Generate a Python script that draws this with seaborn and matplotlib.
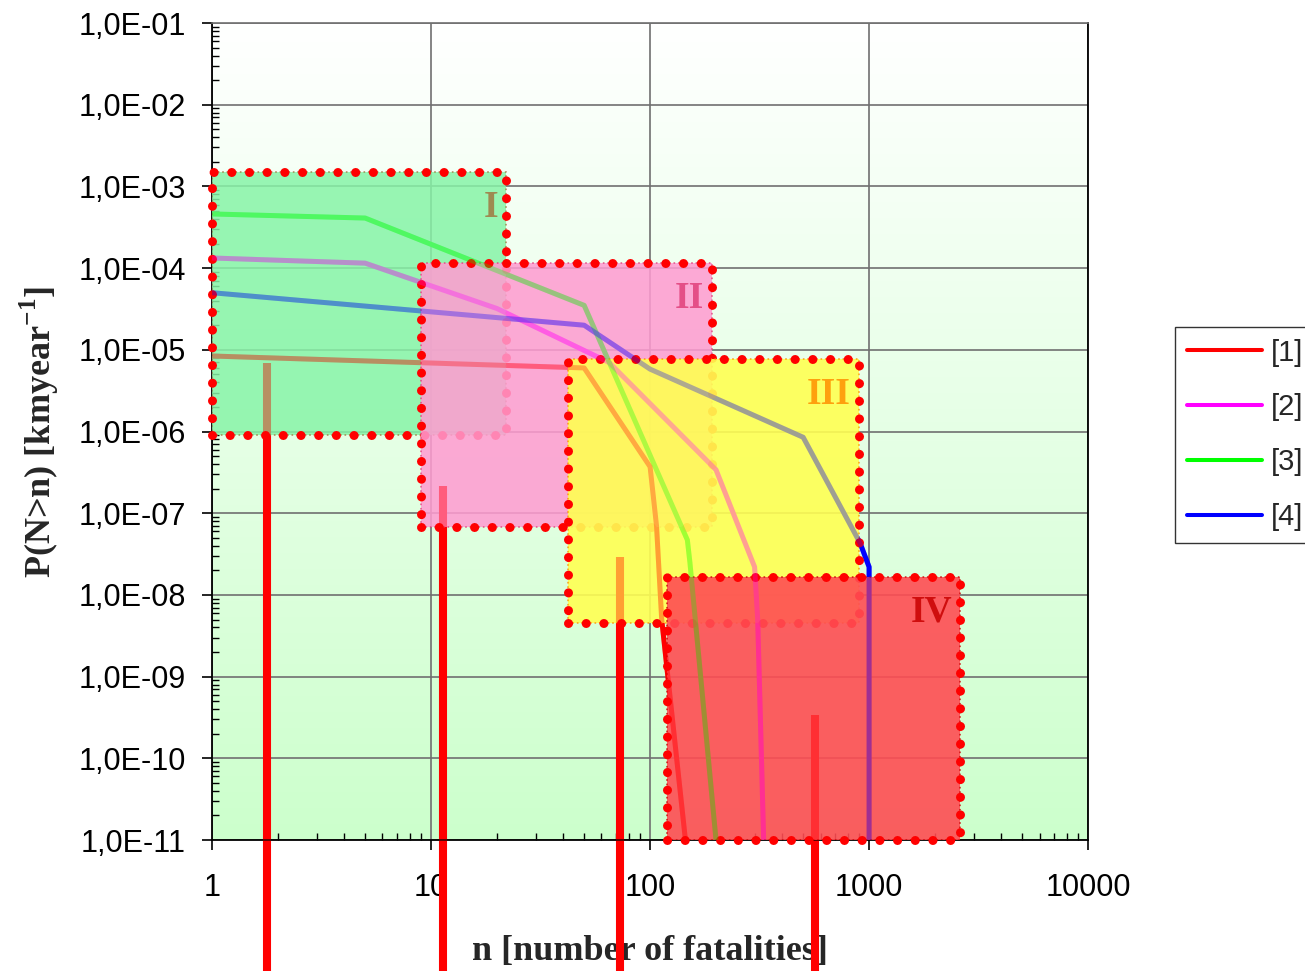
import numpy as np
import pandas as pd
import matplotlib
matplotlib.use("Agg")
import matplotlib.pyplot as plt
from matplotlib.patches import Rectangle
from matplotlib.ticker import FixedLocator, FixedFormatter, LogLocator, NullFormatter
import seaborn as sns

# ---------------- data ----------------
series_names = ['[1]', '[2]', '[3]', '[4]']
n1 = [1, 50, 100, 107, 113, 145]
p1 = [8.4e-6, 6.0e-6, 3.7e-7, 7e-8, 5e-9, 1e-11]
n2 = [1, 5, 20, 65, 200, 300, 310, 330]
p2 = [1.33e-4, 1.15e-4, 3.2e-5, 7e-6, 3.4e-7, 2.2e-8, 5e-9, 1e-11]
n3 = [1, 5, 50, 148, 152, 200]
p3 = [4.6e-4, 4.1e-4, 3.5e-5, 4.7e-8, 2.5e-8, 1e-11]
n4 = [1, 50, 100, 500, 910, 1000, 1000]
p4 = [5e-5, 2e-5, 5.8e-6, 8.5e-7, 4.3e-8, 2.2e-8, 1e-12]

region_labels = ['I', 'II', 'III', 'IV']
region_n_min = [1, 9, 42, 120]
region_n_max = [22, 192, 900, 2600]
region_p_min = [9e-7, 6.8e-8, 4.5e-9, 1e-11]
region_p_max = [1.5e-3, 1.15e-4, 7.7e-6, 1.66e-8]

marker_n = [1.78, 11.35, 73, 565]
marker_p = [6.9e-6, 2.15e-7, 2.9e-8, 3.4e-10]
marker_base = 1e-14

x_ticks = [1, 10, 100, 1000, 10000]
x_tick_labels = ['1', '10', '100', '1000', '10000']
y_ticks = [1e-11, 1e-10, 1e-9, 1e-8, 1e-7, 1e-6, 1e-5, 1e-4, 1e-3, 1e-2, 1e-1]
y_tick_labels = ['1,0E-11', '1,0E-10', '1,0E-09', '1,0E-08', '1,0E-07', '1,0E-06',
                 '1,0E-05', '1,0E-04', '1,0E-03', '1,0E-02', '1,0E-01']

# ---------------- style ----------------
sns.set_style("white")
plt.rcParams['font.family'] = ['Liberation Sans', 'DejaVu Sans']
plt.rcParams['mathtext.fontset'] = 'custom'
plt.rcParams['mathtext.rm'] = 'Liberation Serif'
plt.rcParams['mathtext.bf'] = 'Liberation Serif:bold'
plt.rcParams['hatch.linewidth'] = 0.5

palette = {'[1]': '#ff0000', '[2]': '#ff00ff', '[3]': '#00ff00', '[4]': '#0000ff'}
region_face = [(0.28, 0.91, 0.47, 0.72), (1.0, 0.35, 0.70, 0.75),
               (1.0, 1.0, 0.0, 0.82), (1.0, 0.0, 0.05, 0.82)]
region_hatch = [(0.75, 1.0, 0.82, 0.45), (1.0, 0.85, 0.93, 0.45),
                (1.0, 1.0, 0.65, 0.45), (1.0, 0.6, 0.6, 0.45)]
label_colors = ['#a07840', '#e0407a', '#ff9000', '#c80000']

rows = []
for name, ns, ps in zip(series_names, [n1, n2, n3, n4], [p1, p2, p3, p4]):
    for n, p in zip(ns, ps):
        rows.append({'n': n, 'P': p, 'series': name})
df = pd.DataFrame(rows)

fig = plt.figure(figsize=(13.05, 9.71), dpi=100)
pos = [0.1625, 0.1349, 0.6713, 0.8414]

# background gradient
bg = fig.add_axes(pos, zorder=0)
grad = np.linspace(0, 1, 256)[:, None, None]
top_c = np.array([1.0, 1.0, 1.0])
bot_c = np.array([0.80, 1.0, 0.80])
img = top_c * (1 - grad) + bot_c * grad
bg.imshow(img, aspect='auto', extent=[0, 1, 0, 1])
bg.axis('off')

ax = fig.add_axes(pos, zorder=1)
ax.set_facecolor('none')
ax.set_xscale('log')
ax.set_yscale('log')

# curves underneath the regions
sns.lineplot(data=df, x='n', y='P', hue='series', palette=palette,
             estimator=None, sort=False, linewidth=3.6, ax=ax, zorder=2)
ax.vlines(marker_n, marker_base, marker_p, colors='#ff0000', linewidth=5.8,
          clip_on=False, zorder=2.5)

for i, lab in enumerate(region_labels):
    x0, x1 = region_n_min[i], region_n_max[i]
    y0, y1 = region_p_min[i], region_p_max[i]
    z = 3 + i * 0.1
    ax.add_patch(Rectangle((x0, y0), x1 - x0, y1 - y0, facecolor=region_face[i],
                           edgecolor=region_hatch[i], hatch='+' * 18, linewidth=0,
                           zorder=z))
    ax.add_patch(Rectangle((x0, y0), x1 - x0, y1 - y0, fill=False,
                           edgecolor=label_colors[i], linewidth=1.2, linestyle=':',
                           zorder=z + 0.01, alpha=0.8))
    ax.add_patch(Rectangle((x0, y0), x1 - x0, y1 - y0, fill=False,
                           edgecolor='#ff0000', linewidth=6.5,
                           linestyle=(0, (0.01, 1.95)), capstyle='round',
                           joinstyle='round', clip_on=False, zorder=z + 0.02))
    ax.annotate(lab, xy=(x1, y1), xytext=(-8, -18), textcoords='offset pixels',
                ha='right', va='top', fontsize=27, fontweight='bold',
                family='Liberation Serif', color=label_colors[i], alpha=0.85,
                zorder=z + 0.03)

# see-through effect of the patterned region fills: faint copy of curves on top
sns.lineplot(data=df, x='n', y='P', hue='series', palette=palette,
             estimator=None, sort=False, linewidth=3.6, ax=ax, zorder=3.5,
             alpha=0.3, legend=False)
ax.vlines(marker_n, marker_base, marker_p, colors='#ff0000', linewidth=5.8,
          clip_on=False, zorder=3.5, alpha=0.3)

ax.set_xlim(1, 10000)
ax.set_ylim(1e-11, 1e-1)
ax.xaxis.set_major_locator(FixedLocator(x_ticks))
ax.xaxis.set_major_formatter(FixedFormatter(x_tick_labels))
ax.yaxis.set_major_locator(FixedLocator(y_ticks))
ax.yaxis.set_major_formatter(FixedFormatter(y_tick_labels))
ax.xaxis.set_minor_locator(LogLocator(base=10, subs=np.arange(2, 10), numticks=20))
ax.yaxis.set_minor_locator(LogLocator(base=10, subs=np.arange(2, 10), numticks=20))
ax.xaxis.set_minor_formatter(NullFormatter())
ax.yaxis.set_minor_formatter(NullFormatter())
ax.tick_params(which='major', direction='out', length=7, width=1.2, colors='black',
               labelsize=22)
ax.tick_params(axis='y', which='major', pad=12)
ax.tick_params(axis='x', which='major', pad=17)
ax.tick_params(which='minor', direction='in', length=5, width=1, colors='black')
ax.tick_params(left=True, bottom=True, which='both')

ax.set_axisbelow(True)
ax.grid(True, which='major', color='#707070', linewidth=1.2)
for s in ['left', 'bottom', 'right']:
    ax.spines[s].set_color('black')
    ax.spines[s].set_linewidth(1.3)
ax.spines['top'].set_color('#707070')
ax.spines['top'].set_linewidth(1.2)

ax.set_xlabel('n [number of fatalities]', fontsize=26, fontweight='bold',
              family='Liberation Serif')
ax.set_ylabel(r'P(N>n) [kmyear$^{\mathbf{-1}}$]', fontsize=26, fontweight='bold',
              family='Liberation Serif')
ax.xaxis.set_label_coords(0.5, -0.116)
ax.yaxis.set_label_coords(-0.172, 0.5)

old = ax.get_legend()
handles = old.legend_handles
labels = [t.get_text() for t in old.texts]
old.remove()
leg = ax.legend(handles, labels, loc='center left', bbox_to_anchor=(1.099, 0.496),
                frameon=True, fancybox=False, edgecolor='black', fontsize=21,
                handlelength=2.6, handletextpad=0.3, labelspacing=0.92,
                borderpad=0.4, borderaxespad=0)
leg.get_frame().set_linewidth(1.0)
for h in leg.legend_handles:
    h.set_linewidth(2.9)
    h.set_solid_capstyle('round')
    h.set_alpha(1.0)

fig.savefig('out.png', dpi=100)
